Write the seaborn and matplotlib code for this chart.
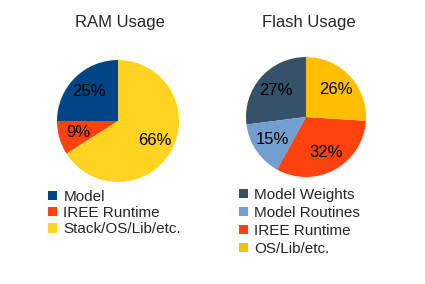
import matplotlib
matplotlib.use("Agg")
import matplotlib.pyplot as plt
import seaborn as sns

# RAM usage breakdown (percent)
ram_labels = ["Model", "IREE Runtime", "Stack/OS/Lib/etc."]
ram_values = [25, 9, 66]
ram_colors = ["#004586", "#ff420e", "#ffd320"]

# Flash usage breakdown (percent)
flash_labels = ["Model Weights", "Model Routines", "IREE Runtime", "OS/Lib/etc."]
flash_values = [27, 15, 32, 26]
flash_colors = ["#355269", "#729fcf", "#ff420e", "#ffbf00"]

sns.set_theme(style="white")
plt.rcParams['font.family'] = ['Liberation Sans', 'DejaVu Sans']

W, H = 425, 284
fig = plt.figure(figsize=(W / 100, H / 100), dpi=100)


def px_axes(cx, cy, r):
    # axes box in figure fractions from a centre/radius in pixels (top-left origin)
    return fig.add_axes([(cx - r) / W, (H - cy - r) / H, 2 * r / W, 2 * r / H])


def draw_pie(ax, values, colors, labels, title, title_x, leg_x, leg_y, spacing):
    wedges, _, autotexts = ax.pie(values, colors=colors, startangle=90, counterclock=True,
                                  autopct='%d%%', pctdistance=0.68,
                                  wedgeprops={'linewidth': 0, 'edgecolor': 'none'},
                                  textprops={'fontsize': 12, 'color': 'black'})
    ax.set_xlim(-1, 1)
    ax.set_ylim(-1, 1)
    ax.set_aspect('equal')
    ax.axis('off')
    fig.text(title_x / W, 1 - 23 / H, title, ha='center', va='center', fontsize=12)
    ax.legend(wedges, labels, loc='upper left', bbox_to_anchor=(leg_x / W, 1 - leg_y / H),
              bbox_transform=fig.transFigure, frameon=False, fontsize=11,
              handlelength=0.58, handleheight=0.58, handletextpad=0.42,
              labelspacing=spacing, borderpad=0, borderaxespad=0)


ax1 = px_axes(118, 121, 61)
draw_pie(ax1, ram_values, ram_colors, ram_labels, "RAM Usage", 120, 48, 190, 0.14)

ax2 = px_axes(306, 117, 60)
draw_pie(ax2, flash_values, flash_colors, flash_labels, "Flash Usage", 309, 239, 188, 0.26)

plt.savefig("out.png", dpi=100)
plt.close()
